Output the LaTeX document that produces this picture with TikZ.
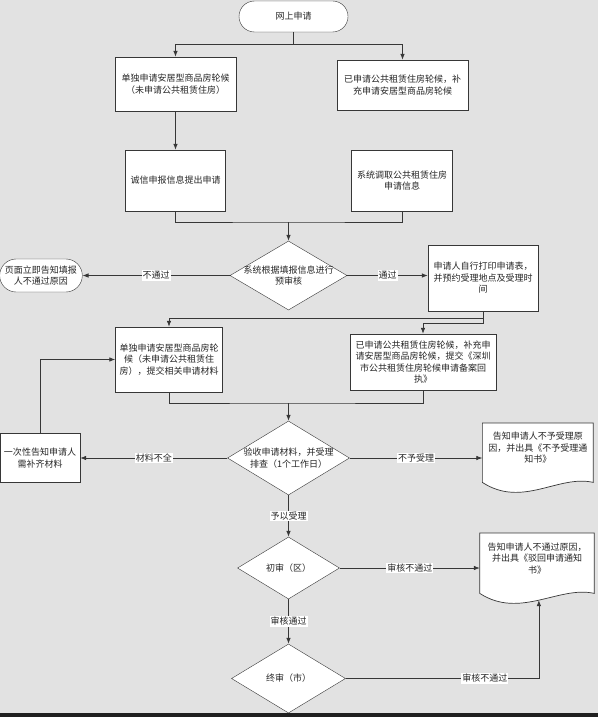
\documentclass[tikz,border=0pt]{standalone}
\usepackage{fontspec}
\newfontfamily\cjk{Noto Sans CJK SC}
\usetikzlibrary{shapes.geometric,shapes.misc,arrows.meta,calc,backgrounds}
\definecolor{bggray}{RGB}{226,226,226}
\definecolor{linegray}{RGB}{55,55,55}

% outline of a document node, with a wavy lower edge
\newcommand\docpath[1]{%
  \draw[draw=linegray, line width=0.7pt, fill=white] (#1.north west) -- (#1.north east)
    -- ($(#1.south east)+(0,10)$) .. controls +(-35,-8) and +(40,26) .. ($(#1.south west)+(0,10)$)
    coordinate[pos=0.5] (#1-w) -- cycle;}

\begin{document}
\begin{tikzpicture}[x=1pt,y=-1pt,>={Latex[length=6pt,width=4.5pt]},
  every node/.style={font=\cjk\fontsize{9}{11.5}\selectfont, align=center, text=black!85},
  term/.style={rounded rectangle, draw=linegray, fill=white, inner sep=2pt},
  proc/.style={rectangle, draw=linegray, fill=white, inner sep=2pt},
  decision/.style={diamond, draw=linegray, fill=white, shape aspect=1.7, inner sep=-4pt},
  docnode/.style={rectangle, inner sep=2pt, anchor=north},
  lbl/.style={fill=white, inner sep=1pt},
  flow/.style={draw=linegray, line width=0.7pt}]
\useasboundingbox (0,0) rectangle (598,717);
\begin{scope}[on background layer]
  \fill[bggray] (0,0) rectangle (598,717);
\end{scope}

\node[term, minimum width=113pt, minimum height=31pt] (apply) at (293.5,16.5) {网上申请};
\node[proc, minimum width=121pt, minimum height=54pt] (solo) at (175.5,84) {单独申请安居型商品房轮候\\（未申请公共租赁住房）};
\node[proc, minimum width=131pt, minimum height=50pt] (supp) at (402.5,85) {已申请公共租赁住房轮候，补\\充申请安居型商品房轮候};
\node[proc, minimum width=100pt, minimum height=61pt] (honest) at (175.5,180.5) {诚信申报信息提出申请};
\node[proc, minimum width=101pt, minimum height=61pt] (fetch) at (402,180.5) {系统调取公共租赁住房\\申请信息};
\node[decision, minimum width=117pt, minimum height=69pt] (precheck) at (288.5,275.5) {系统根据填报信息进行\\预审核};
\node[term, minimum width=80pt, minimum height=33pt] (reject) at (41,275.5) {页面立即告知填报\\人不通过原因};
\node[proc, minimum width=110pt, minimum height=66pt] (print) at (483,278) {申请人自行打印申请表，\\并预约受理地点及受理时\\间};
\node[proc, minimum width=107pt, minimum height=65pt] (solomat) at (169,359.5) {单独申请安居型商品房轮\\候（未申请公共租赁住\\房），提交相关申请材料};
\node[proc, minimum width=146pt, minimum height=56pt] (suppmat) at (423,362) {已申请公共租赁住房轮候，补充申\\请安居型商品房轮候，提交《深圳\\市公共租赁住房轮候申请备案回\\执》};
\node[decision, minimum width=122pt, minimum height=74pt] (accept) at (288.5,458) {验收申请材料，并受理\\排查（1个工作日）};
\node[proc, minimum width=80pt, minimum height=49pt] (notify) at (40,458) {一次性告知申请人\\需补齐材料};
\node[docnode, minimum width=110.5pt, minimum height=49pt] (refuse) at (537.8,423) {告知申请人不予受理原\\因，并出具《不予受理通\\知书》};
\node[decision, minimum width=102pt, minimum height=62pt] (first) at (288.5,568) {初审（区）};
\node[docnode, minimum width=114pt, minimum height=50pt] (dismiss) at (537,533) {告知申请人不通过原因，\\并出具《驳回申请通知\\书》};
\node[decision, minimum width=114pt, minimum height=69pt] (final) at (288.5,678.5) {终审（市）};

\begin{scope}[on background layer]
  \docpath{refuse}
  \docpath{dismiss}
\end{scope}

\coordinate (fork) at ($(apply.south)+(0,12)$);
\draw[flow] (apply.south) -- (fork);
\draw[flow,->] (fork) -| (solo.north);
\draw[flow,->] (fork) -| (supp.north);
\draw[flow,->] (solo) -- (honest);
\coordinate (join1) at (288.5,222);
\draw[flow] (honest.south) |- (join1) -| (fetch.south);
\draw[flow,->] (join1) -- (precheck.north);
\draw[flow,->] (precheck.west) -- node[lbl]{不通过} (reject.east);
\draw[flow,->] (precheck.east) -- node[lbl]{通过} (precheck.east -| print.west);
\draw[flow,->] (print.south) -- ++(0,7) -| (solomat.north);
\draw[flow,->] (print.south) -- ++(0,12) -| (suppmat.north);
\coordinate (join2) at (288.5,403);
\draw[flow] (solomat.south) |- (join2) -| (suppmat.south);
\draw[flow,->] (join2) -- (accept.north);
\draw[flow,->] (accept.west) -- node[lbl]{材料不全} (notify.east);
\draw[flow,->] (accept.east) -- node[lbl]{不予受理} (accept.east -| refuse.west);
\draw[flow,->] (notify.north) |- (solomat.west);
\draw[flow,->] (accept.south) -- node[lbl]{予以受理} (first.north);
\draw[flow,->] (first.east) -- node[lbl]{审核不通过} (first.east -| dismiss.west);
\draw[flow,->] (first.south) -- node[lbl]{审核通过} (final.north);
\draw[flow,->] (final.east) -| node[lbl,pos=0.36]{审核不通过} (dismiss-w);

\fill[black!88] (0,713) rectangle (598,717);
\end{tikzpicture}
\end{document}
